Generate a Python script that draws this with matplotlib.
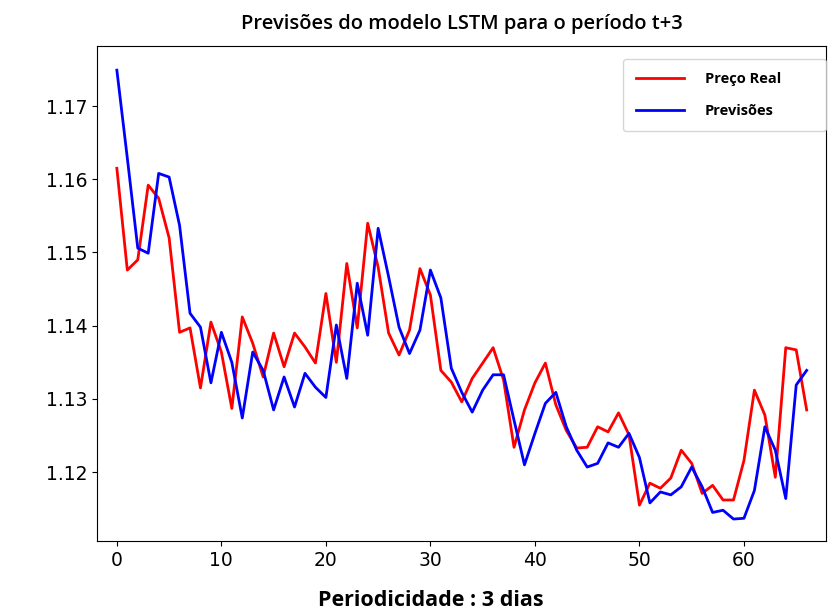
import numpy as np
import matplotlib
matplotlib.use("Agg")
import matplotlib.pyplot as plt

# Valores (período t+3)
preco_real = [
    1.1615, 1.1476, 1.1490, 1.1592, 1.1574, 1.1520, 1.1391, 1.1397, 1.1315, 1.1405,
    1.1364, 1.1287, 1.1412, 1.1376, 1.1330, 1.1390, 1.1344, 1.1390, 1.1371, 1.1349,
    1.1444, 1.1350, 1.1485, 1.1397, 1.1540, 1.1480, 1.1390, 1.1360, 1.1394, 1.1478,
    1.1442, 1.1339, 1.1323, 1.1296, 1.1328, 1.1349, 1.1370, 1.1326, 1.1234, 1.1285,
    1.1322, 1.1349, 1.1292, 1.1257, 1.1233, 1.1234, 1.1262, 1.1255, 1.1281, 1.1251,
    1.1155, 1.1185, 1.1178, 1.1192, 1.1230, 1.1212, 1.1171, 1.1182, 1.1162, 1.1162,
    1.1216, 1.1312, 1.1278, 1.1193, 1.1370, 1.1367, 1.1285,
]
previsoes = [
    1.1749, 1.1629, 1.1506, 1.1499, 1.1608, 1.1603, 1.1537, 1.1417, 1.1398, 1.1322,
    1.1391, 1.1350, 1.1274, 1.1364, 1.1339, 1.1285, 1.1330, 1.1289, 1.1335, 1.1316,
    1.1302, 1.1401, 1.1328, 1.1458, 1.1387, 1.1533, 1.1467, 1.1398, 1.1362, 1.1394,
    1.1476, 1.1438, 1.1342, 1.1309, 1.1282, 1.1312, 1.1333, 1.1333, 1.1271, 1.1210,
    1.1253, 1.1294, 1.1309, 1.1262, 1.1230, 1.1207, 1.1212, 1.1240, 1.1234, 1.1253,
    1.1220, 1.1158, 1.1173, 1.1169, 1.1180, 1.1207, 1.1180, 1.1145, 1.1148, 1.1136,
    1.1137, 1.1175, 1.1262, 1.1230, 1.1164, 1.1319, 1.1339,
]
x = np.arange(len(preco_real))

fig = plt.figure(figsize=(8.37, 6.12), dpi=100)
ax = fig.add_axes([97 / 837, 1 - 541 / 612, (826 - 97) / 837, (541 - 46) / 612])

ax.plot(x, preco_real, color="red", linewidth=2, label="Preço Real")
ax.plot(x, previsoes, color="blue", linewidth=2, label="Previsões")

ax.set_xlim(-1.9, 67.85)
ax.set_ylim(1.1106, 1.1782)
ax.set_xticks([0, 10, 20, 30, 40, 50, 60])
ax.set_yticks([1.12, 1.13, 1.14, 1.15, 1.16, 1.17])
ax.tick_params(labelsize=13.5)

ax.set_title("Previsões do modelo LSTM para o período t+3",
             fontsize=14.5, family="Open Sans", fontweight="semibold", pad=12)
ax.set_xlabel("Periodicidade : 3 dias", fontsize=15.5, family="Open Sans",
              fontweight="bold")
ax.xaxis.set_label_coords(0.458, -0.1)

ax.legend(loc="upper right", bbox_to_anchor=(0.7215, 0.5, 0.2785, 0.4737),
          mode="expand", borderaxespad=0,
          prop={"family": "Open Sans", "weight": "bold", "size": 10.5},
          handlelength=3.3, handletextpad=1.4, borderpad=0.9, labelspacing=1.2)

fig.savefig("out.png", dpi=100)
